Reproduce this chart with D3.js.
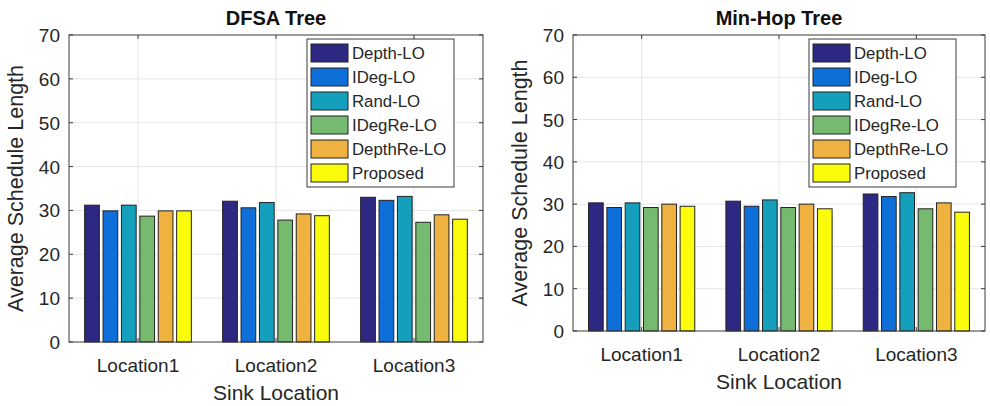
<!DOCTYPE html>
<html>
<head>
<meta charset="utf-8">
<script src="https://cdn.jsdelivr.net/npm/d3@7"></script>
<style>
  body { margin: 0; background: #fff; }
  svg { display: block; font-family: "Liberation Sans", Arial, sans-serif; }
</style>
</head>
<body>
<div id="chart"></div>
<script>
// categories + series
var categories = ["Location1", "Location2", "Location3"];
var seriesNames = ["Depth-LO", "IDeg-LO", "Rand-LO", "IDegRe-LO", "DepthRe-LO", "Proposed"];
var seriesColors = ["#2d2881", "#0f6fd8", "#14a0bc", "#76ba6f", "#efb140", "#fbfb0c"];
var yTicks = [0, 10, 20, 30, 40, 50, 60, 70];

// values, one array per series (Location1..3)
var dfsaDepth    = [31.2, 32.1, 33.0];
var dfsaIDeg     = [29.9, 30.6, 32.3];
var dfsaRand     = [31.2, 31.8, 33.2];
var dfsaIDegRe   = [28.7, 27.8, 27.3];
var dfsaDepthRe  = [29.9, 29.2, 29.0];
var dfsaProposed = [29.9, 28.8, 28.0];

var hopDepth    = [30.3, 30.7, 32.4];
var hopIDeg     = [29.2, 29.5, 31.8];
var hopRand     = [30.3, 31.0, 32.7];
var hopIDegRe   = [29.2, 29.2, 28.9];
var hopDepthRe  = [30.0, 30.0, 30.3];
var hopProposed = [29.5, 28.9, 28.1];

var W = 990, H = 406;
var svg = d3.select("#chart").append("svg").attr("width", W).attr("height", H);

function drawPanel(p) {
  var g = svg.append("g");
  var x = d3.scaleBand().domain(categories).range([p.left, p.right]).paddingInner(0).paddingOuter(0);
  var bw = x.bandwidth();
  var xs = d3.scaleBand().domain(seriesNames).range([bw * 0.1, bw * 0.9]).paddingInner(0.2).paddingOuter(0.1);
  var y = d3.scaleLinear().domain([0, 70]).range([p.bottom, p.top]);

  // grid
  g.append("g").selectAll("line.h").data(yTicks.slice(1, -1)).join("line")
    .attr("x1", p.left).attr("x2", p.right)
    .attr("y1", d => y(d)).attr("y2", d => y(d))
    .attr("stroke", "#e6e6e6").attr("stroke-width", 1);
  g.append("g").selectAll("line.v").data(categories).join("line")
    .attr("x1", d => x(d) + bw / 2).attr("x2", d => x(d) + bw / 2)
    .attr("y1", p.top).attr("y2", p.bottom)
    .attr("stroke", "#e6e6e6").attr("stroke-width", 1);

  // bars
  var rows = [];
  seriesNames.forEach((s, si) => {
    p.values[si].forEach((v, ci) => rows.push({s: s, c: categories[ci], v: v, color: seriesColors[si]}));
  });
  g.append("g").selectAll("rect").data(rows).join("rect")
    .attr("x", d => x(d.c) + xs(d.s))
    .attr("width", xs.bandwidth())
    .attr("y", d => y(d.v))
    .attr("height", d => y(0) - y(d.v))
    .attr("fill", d => d.color)
    .attr("stroke", "#222").attr("stroke-width", 1);

  // box
  g.append("rect").attr("x", p.left).attr("y", p.top)
    .attr("width", p.right - p.left).attr("height", p.bottom - p.top)
    .attr("fill", "none").attr("stroke", "#3a3a3a").attr("stroke-width", 1);

  // y ticks (inward, both sides)
  g.append("g").selectAll("path").data(yTicks).join("path")
    .attr("d", d => `M${p.left},${y(d)}h4M${p.right},${y(d)}h-4`)
    .attr("stroke", "#3a3a3a");
  // x ticks
  g.append("g").selectAll("path").data(categories).join("path")
    .attr("d", d => `M${x(d) + bw / 2},${p.bottom}v-4M${x(d) + bw / 2},${p.top}v4`)
    .attr("stroke", "#3a3a3a");

  // tick labels
  g.append("g").selectAll("text").data(yTicks).join("text")
    .attr("x", p.left - 9).attr("y", d => y(d) + 7)
    .attr("text-anchor", "end").attr("font-size", 19).attr("fill", "#262626")
    .text(d => d);
  g.append("g").selectAll("text").data(categories).join("text")
    .attr("x", d => x(d) + bw / 2).attr("y", p.bottom + 30)
    .attr("text-anchor", "middle").attr("font-size", 19).attr("fill", "#262626")
    .text(d => d);

  // axis titles
  g.append("text")
    .attr("x", (p.left + p.right) / 2).attr("y", p.bottom + 58)
    .attr("text-anchor", "middle").attr("font-size", 21).attr("fill", "#262626")
    .text("Sink Location");
  g.append("text")
    .attr("transform", `translate(${p.left - 46},${(p.top + p.bottom) / 2}) rotate(-90)`)
    .attr("text-anchor", "middle").attr("font-size", 21.5).attr("fill", "#262626")
    .text("Average Schedule Length");
  g.append("text")
    .attr("x", (p.left + p.right) / 2).attr("y", p.top - 10)
    .attr("text-anchor", "middle").attr("font-size", 20).attr("font-weight", "bold").attr("fill", "#111")
    .text(p.title);

  // legend
  var lg = g.append("g").attr("transform", `translate(${p.legendX},${p.legendY})`);
  lg.append("rect").attr("width", 147).attr("height", 148)
    .attr("fill", "#fff").attr("stroke", "#3a3a3a").attr("stroke-width", 1);
  var item = lg.selectAll("g").data(seriesNames).join("g")
    .attr("transform", (d, i) => `translate(4,${5 + i * 24})`);
  item.append("rect").attr("width", 37).attr("height", 18)
    .attr("fill", (d, i) => seriesColors[i]).attr("stroke", "#222");
  item.append("text").attr("x", 41).attr("y", 15)
    .attr("font-size", 16.8).attr("fill", "#262626").text(d => d);
}

drawPanel({
  title: "DFSA Tree", left: 69, right: 483, top: 35, bottom: 342,
  legendX: 307, legendY: 39,
  values: [dfsaDepth, dfsaIDeg, dfsaRand, dfsaIDegRe, dfsaDepthRe, dfsaProposed]
});
drawPanel({
  title: "Min-Hop Tree", left: 573, right: 985, top: 35, bottom: 331,
  legendX: 809, legendY: 39,
  values: [hopDepth, hopIDeg, hopRand, hopIDegRe, hopDepthRe, hopProposed]
});
</script>
</body>
</html>
